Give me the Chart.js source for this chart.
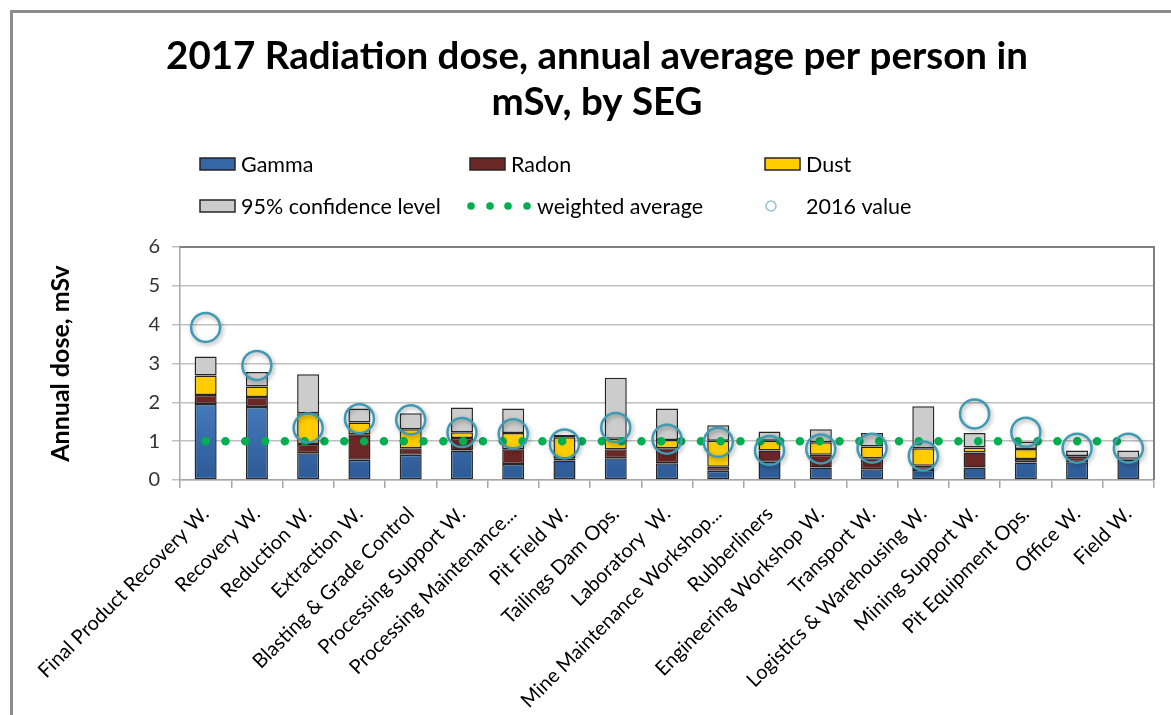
<!DOCTYPE html>
<html>
<head>
<meta charset="utf-8">
<script src="https://cdn.jsdelivr.net/npm/chart.js@4/dist/chart.umd.min.js"></script>
<style>
html, body { margin: 0; padding: 0; background: #fff; }
#wrap { position: relative; width: 1171px; height: 715px; }
</style>
</head>
<body>
<div id="wrap"><canvas id="doseChart"></canvas></div>
<script>
// chart values
var titleLines = ["2017 Radiation dose, annual average per person in", "mSv, by SEG"];
var segs = ["Final Product Recovery W.", "Recovery W.", "Reduction W.", "Extraction W.", "Blasting & Grade Control",
	"Processing Support W.", "Processing Maintenance...", "Pit Field W.", "Tailings Dam Ops.", "Laboratory  W.",
	"Mine Maintenance Workshop...", "Rubberliners", "Engineering Workshop W.", "Transport W.",
	"Logistics & Warehousing W.", "Mining Support W.", "Pit Equipment Ops.", "Office W.", "Field W."];
var gamma = [1.96, 1.88, 0.69, 0.52, 0.65, 0.76, 0.41, 0.50, 0.56, 0.43, 0.24, 0.47, 0.32, 0.28, 0.26, 0.32, 0.45, 0.46, 0.52];
var radon = [0.23, 0.26, 0.24, 0.66, 0.17, 0.32, 0.38, 0.06, 0.23, 0.39, 0.10, 0.29, 0.33, 0.28, 0.11, 0.39, 0.09, 0.14, 0.02];
var dust = [0.50, 0.27, 0.79, 0.30, 0.49, 0.15, 0.42, 0.54, 0.27, 0.21, 0.67, 0.25, 0.32, 0.30, 0.45, 0.13, 0.26, 0.02, 0.01];
var conf95 = [0.49, 0.37, 1.00, 0.36, 0.41, 0.64, 0.63, 0.06, 1.57, 0.81, 0.40, 0.24, 0.34, 0.35, 1.08, 0.37, 0.19, 0.14, 0.21];
var weightedAvg = [1, 1, 1, 1, 1, 1, 1, 1, 1, 1, 1, 1, 1, 1, 1, 1, 1, 1, 1];
var value2016 = [3.93, 2.95, 1.34, 1.58, 1.55, 1.22, 1.19, 0.93, 1.35, 1.05, 0.97, 0.76, 0.80, 0.82, 0.62, 1.70, 1.23, 0.82, 0.82];
var yTicks = [0, 1, 2, 3, 4, 5, 6];

var FONT = "Lato, 'Open Sans', sans-serif";
var EDGE = "#262626";

function blueFill(context) {
	var area = context.chart.chartArea;
	if (!area) return "#3b6db2";
	var g = context.chart.ctx.createLinearGradient(0, area.bottom, 0, area.bottom - 90);
	g.addColorStop(0, "#2c5a96");
	g.addColorStop(1, "#4a7fc1");
	return g;
}

// title, legend, frame and plot border
var decor = {
	id: "decor",
	beforeDraw(chart) {
		var ctx = chart.ctx;
		ctx.save();
		ctx.strokeStyle = "#8c8c8c";
		ctx.lineWidth = 3;
		ctx.beginPath();
		ctx.moveTo(11.5, 715);
		ctx.lineTo(11.5, 11.5);
		ctx.lineTo(1171, 11.5);
		ctx.stroke();

		ctx.fillStyle = "#000";
		ctx.font = "bold 38.5px " + FONT;
		ctx.textAlign = "center";
		ctx.textBaseline = "middle";
		titleLines.forEach(function(t, i) {
			ctx.fillText(t, 597, 57 + i * 46);
		});

		ctx.font = "21.5px " + FONT;
		ctx.textAlign = "left";
		var boxes = [
			["Gamma", "#3566a8", 200, 164],
			["Radon", "#6b2626", 470, 164],
			["Dust", "#ffcc00", 765, 164],
			["95% confidence level", "#cccccc", 200, 206]
		];
		boxes.forEach(function(b) {
			ctx.fillStyle = b[1];
			ctx.fillRect(b[2], b[3] - 6, 35, 12);
			ctx.strokeStyle = EDGE;
			ctx.lineWidth = 1.5;
			ctx.strokeRect(b[2], b[3] - 6, 35, 12);
			ctx.fillStyle = "#000";
			ctx.fillText(b[0], b[2] + 41, b[3] + 1);
		});
		ctx.fillStyle = "#00b050";
		[471, 490, 508, 527].forEach(function(x) {
			ctx.beginPath();
			ctx.arc(x, 206, 3.8, 0, Math.PI * 2);
			ctx.fill();
		});
		ctx.fillStyle = "#000";
		ctx.fillText("weighted average", 537, 207);
		ctx.strokeStyle = "#8fc4d4";
		ctx.lineWidth = 1.5;
		ctx.beginPath();
		ctx.arc(771, 206, 5, 0, Math.PI * 2);
		ctx.stroke();
		ctx.fillText("2016 value", 806, 207);
		ctx.restore();
	},
	beforeDatasetDraw(chart, args) {
		if (args.index === 0) {
			var ctx = chart.ctx;
			ctx.save();
			ctx.shadowColor = "rgba(0,0,0,0.35)";
			ctx.shadowBlur = 4;
			ctx.shadowOffsetX = 1.5;
			ctx.shadowOffsetY = 2;
		}
	},
	afterDatasetDraw(chart, args) {
		if (args.index === 0) chart.ctx.restore();
	},
	afterDraw(chart) {
		var a = chart.chartArea, ctx = chart.ctx;
		ctx.save();
		ctx.strokeStyle = "#7f7f7f";
		ctx.lineWidth = 2;
		ctx.beginPath();
		ctx.moveTo(a.left, a.top);
		ctx.lineTo(a.right, a.top);
		ctx.lineTo(a.right, a.bottom);
		ctx.stroke();
		ctx.restore();
	}
};

new Chart(document.getElementById("doseChart"), {
	data: {
		labels: segs,
		datasets: [
			{
				type: "line",
				label: "2016 value",
				data: value2016,
				stack: "prev",
				showLine: false,
				pointRadius: 14.5,
				pointBorderWidth: 2.5,
				pointBorderColor: "#3f9ab4",
				pointBackgroundColor: "rgba(255,255,255,0)",
				order: 0
			},
			{
				type: "line",
				label: "weighted average",
				data: weightedAvg,
				stack: "avg",
				borderColor: "#00b050",
				borderWidth: 8.5,
				borderDash: [0.01, 19.8],
				borderCapStyle: "round",
				pointRadius: 0,
				order: 1
			},
			{ type: "bar", label: "Gamma", data: gamma, stack: "dose", backgroundColor: blueFill, order: 2 },
			{ type: "bar", label: "Radon", data: radon, stack: "dose", backgroundColor: "#6b2626", order: 3 },
			{ type: "bar", label: "Dust", data: dust, stack: "dose", backgroundColor: "#ffcc00", order: 4 },
			{ type: "bar", label: "95% confidence level", data: conf95, stack: "dose", backgroundColor: "#cccccc", order: 5 }
		]
	},
	options: {
		responsive: true,
		maintainAspectRatio: false,
		animation: false,
		layout: { padding: { top: 247, left: 0, right: 13, bottom: 0 } },
		datasets: {
			bar: {
				barPercentage: 0.43,
				categoryPercentage: 1,
				borderColor: EDGE,
				borderWidth: 1.5,
				borderSkipped: false
			}
		},
		plugins: {
			legend: { display: false },
			title: { display: false },
			tooltip: { enabled: false }
		},
		scales: {
			x: {
				stacked: true,
				offset: true,
				grid: { offset: true, drawOnChartArea: false, drawTicks: true, tickLength: 8, color: "#a6a6a6", lineWidth: 1.5 },
				border: { color: "#a6a6a6", width: 1.5 },
				ticks: {
					autoSkip: false,
					maxRotation: 45,
					minRotation: 45,
					padding: 14,
					color: "#000",
					font: { family: FONT, size: 20 }
				},
				afterFit: function(scale) { scale.height = 235; }
			},
			y: {
				stacked: true,
				min: yTicks[0],
				max: yTicks[yTicks.length - 1],
				grid: { color: "#c0c0c0", lineWidth: 1.5, tickLength: 8 },
				border: { color: "#a6a6a6", width: 1.5 },
				ticks: {
					stepSize: 1,
					padding: 12,
					color: "#333",
					font: { family: FONT, size: 20 }
				},
				title: {
					display: true,
					text: "Annual dose, mSv",
					color: "#000",
					padding: { top: 46, bottom: 0 },
					font: { family: FONT, size: 25, weight: "bold" }
				},
				afterFit: function(scale) { scale.width = 180; }
			}
		}
	},
	plugins: [decor]
});
</script>
</body>
</html>
